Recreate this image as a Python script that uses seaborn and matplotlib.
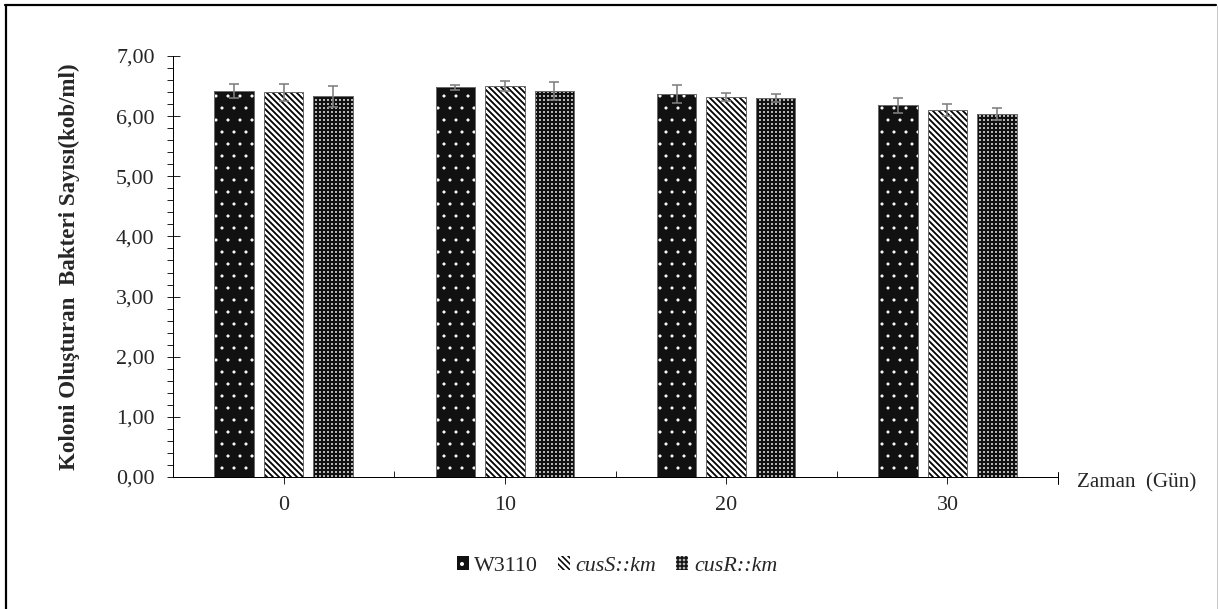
"""Koloni oluşturan bakteri sayısı - zaman grafiği"""
import matplotlib
matplotlib.use("Agg")
import matplotlib.pyplot as plt
import numpy as np
import pandas as pd
import seaborn as sns
from matplotlib.lines import Line2D
from matplotlib.patches import Rectangle
from matplotlib.ticker import FuncFormatter, MultipleLocator, FixedLocator

# veriler
days = ["0", "10", "20", "30"]
strains = ["W3110", "cusS::km", "cusR::km"]
w3110 = [6.42, 6.48, 6.37, 6.18]
cus_s = [6.40, 6.50, 6.32, 6.10]
cus_r = [6.33, 6.42, 6.30, 6.03]
w3110_err = [0.12, 0.04, 0.15, 0.12]
cus_s_err = [0.14, 0.08, 0.07, 0.10]
cus_r_err = [0.17, 0.15, 0.07, 0.10]

sns.set_style("ticks")
plt.rcParams["font.family"] = ["Liberation Serif", "DejaVu Serif"]
plt.rcParams["hatch.linewidth"] = 1.6

df = pd.DataFrame({
    "gun": days * 3,
    "sus": np.repeat(strains, len(days)),
    "kob": w3110 + cus_s + cus_r,
    "err": w3110_err + cus_s_err + cus_r_err,
})

W, H, DPI = 1218, 609, 72
fig = plt.figure(figsize=(W / DPI, H / DPI), dpi=DPI)
ax = fig.add_axes([173 / W, 1 - 477 / H, 885 / W, 421 / H])

sns.barplot(data=df, x="gun", y="kob", hue="sus", order=days, hue_order=strains,
            width=0.67, gap=0.2, errorbar=None, legend=False, ax=ax)

# desenler: (yüz rengi, desen, desen rengi, desen kalınlığı)
styles = [
    ("#111111", ".", "white", 0.6),
    ("white", "\\\\\\\\", "black", 1.8),
    ("#b4b4b4", "+++", "#111111", 2.0),
]
bars = list(ax.patches)
for i, p in enumerate(bars):
    fc, hatch, hc, hlw = styles[i // len(days)]
    p.set_facecolor(fc)
    p.set_hatch(hatch)
    p.set_edgecolor(hc)
    p.set_linewidth(0)
    if hasattr(p, "set_hatch_linewidth"):
        p.set_hatch_linewidth(hlw)
    ax.add_patch(Rectangle(p.get_xy(), p.get_width(), p.get_height(), fill=False,
                           edgecolor="#6a6a6a", linewidth=1, zorder=p.get_zorder() + 0.1))

xs = [p.get_x() + p.get_width() / 2 for p in bars]
ax.errorbar(xs, df["kob"], yerr=df["err"], fmt="none", ecolor="#7f7f7f",
            elinewidth=1.6, capsize=5, capthick=1.6, zorder=5)

ax.set_xlim(-0.5, 3.5)
ax.set_ylim(0, 7)
ax.yaxis.set_major_locator(MultipleLocator(1))
ax.yaxis.set_minor_locator(MultipleLocator(0.2))
ax.yaxis.set_major_formatter(FuncFormatter(lambda v, _: f"{v:.2f}".replace(".", ",")))
ax.xaxis.set_minor_locator(FixedLocator([0.5, 1.5, 2.5]))
ax.tick_params(axis="y", which="major", direction="inout", length=13, width=1, labelsize=22, pad=12)
ax.tick_params(axis="y", which="minor", direction="out", length=6, width=1)
ax.tick_params(axis="x", which="major", direction="out", length=7, width=1, labelsize=22, pad=12)
ax.tick_params(axis="x", which="minor", direction="in", length=6, width=1)
ax.plot([3.5, 3.5], [-0.11, 0.09], color="black", lw=1, clip_on=False)
for side in ["top", "right"]:
    ax.spines[side].set_visible(False)
for side in ["left", "bottom"]:
    ax.spines[side].set_color("black")
    ax.spines[side].set_linewidth(1)

ax.set_xlabel("")
ax.set_ylabel("Koloni Oluşturan  Bakteri Sayısı(kob/ml)", fontsize=23, fontweight="bold", labelpad=36)
ax.text(1.022, -0.014, "Zaman  (Gün)", transform=ax.transAxes, ha="left", va="center", fontsize=21)

handles = [Rectangle((0, 0), 1, 1, facecolor=fc, hatch=h, edgecolor=hc, linewidth=0)
           for fc, h, hc, _ in styles]
leg = fig.legend(handles, strains, loc="center", bbox_to_anchor=(617 / W, 1 - 566 / H), ncol=3,
                 frameon=False, fontsize=22, handlelength=0.55, handleheight=0.55,
                 handletextpad=0.25, columnspacing=0.9)
for t in leg.get_texts()[1:]:
    t.set_fontstyle("italic")

# çerçeve
fig.add_artist(Line2D([5 / W, 1216 / W], [1 - 5 / H, 1 - 5 / H], color="black", lw=2.2, transform=fig.transFigure))
fig.add_artist(Line2D([6 / W, 6 / W], [1 - 5 / H, 0], color="black", lw=2.2, transform=fig.transFigure))
fig.add_artist(Line2D([1217 / W, 1217 / W], [1 - 6 / H, 0], color="#c8c8c8", lw=1, transform=fig.transFigure))

fig.savefig("out.png", dpi=DPI)
plt.close()
